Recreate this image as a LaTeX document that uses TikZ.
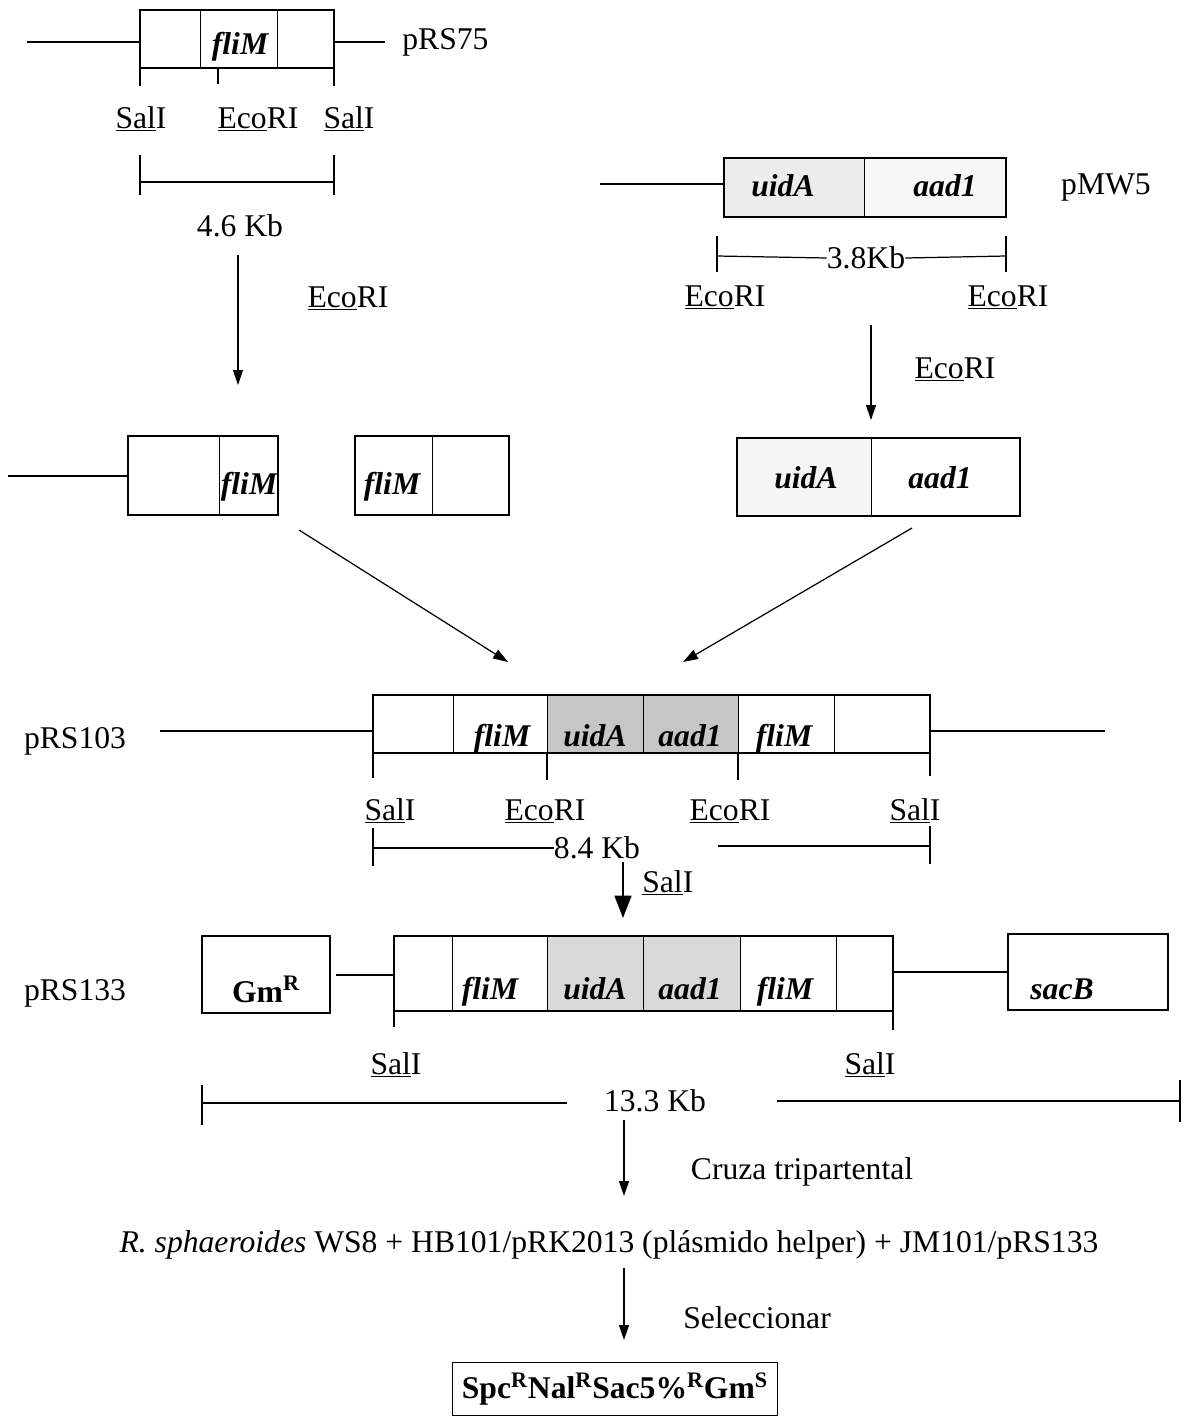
\documentclass[tikz,border=0pt]{standalone}
\usepackage{fontspec}
\setmainfont{Liberation Serif}
\usetikzlibrary{arrows.meta}
\newcommand{\enz}[2]{\underline{#1}#2}
\begin{document}
\begin{tikzpicture}[x=0.02cm, y=-0.02cm,
  txt/.style={font=\fontsize{18}{20}\selectfont, inner sep=0pt},
  gene/.style={font=\fontsize{18}{20}\selectfont\bfseries\itshape, inner sep=0pt, anchor=base},
  site/.style={txt, anchor=base},
  box/.style={draw, line width=1pt},
  wire/.style={line width=1pt},
  tick/.style={line width=0.7pt},
  flow/.style={-{Triangle[length=0.3cm, width=0.2cm]}, line width=0.7pt},
  bigflow/.style={-{Triangle[length=0.45cm, width=0.34cm]}, line width=1pt}
]
\useasboundingbox (0,0) rectangle (1185,1417);

% pRS75
\draw[wire] (27,42) -- (140,42);
\draw[box] (140,10) rectangle (334,68);
\draw (200,10) -- (200,68) (277,10) -- (277,68);
\node[gene] (fliMa) at (240,54) {fliM};
\draw[wire] (334,42) -- (385,42);
\node[txt, anchor=west] (pRS75) at (402,42) {pRS75};
\draw[tick] (140,68) -- (140,86) (218,68) -- (218,84) (334,68) -- (334,86);
\node[site] (salA) at (141,128) {\enz{Sal}I};
\node[site] (ecoA) at (258,128) {\enz{Eco}RI};
\node[site] (salB) at (349,128) {\enz{Sal}I};
\draw[tick] (140,155) -- (140,195) (334,155) -- (334,195);
\draw[tick] (140,182) -- (334,182);
\node[txt] (kbA) at (240,226) {4.6 Kb};

% pMW5
\draw[wire] (600,184) -- (724,184);
\fill[gray!15] (724,158) rectangle (864,217);
\fill[gray!6] (864,158) rectangle (1006,217);
\draw[box] (724,158) rectangle (1006,217);
\draw (864,158) -- (864,217);
\node[gene] (uidAa) at (783,196) {uidA};
\node[gene] (aadA) at (945,196) {aad1};
\node[txt] (pMW5) at (1106,188) {pMW5};
\draw[tick] (717,236) -- (717,272) (1006,236) -- (1006,272);
\node[txt] (kbB) at (866,258) {3.8Kb};
\draw[tick] (717,256) -- (kbB.west) (kbB.east) -- (1006,256);
\node[site] (ecoB) at (725,306) {\enz{Eco}RI};
\node[site] (ecoC) at (1008,306) {\enz{Eco}RI};

% digestion
\coordinate (d1s) at (238,255);
\coordinate (d1e) at (238,385);
\draw[flow] (d1s) -- (d1e);
\node[site] (ecoD) at (348,307) {\enz{Eco}RI};
\coordinate (d2s) at (871,325);
\coordinate (d2e) at (871,420);
\draw[flow] (d2s) -- (d2e);
\node[site] (ecoE) at (955,378) {\enz{Eco}RI};

% fragments
\draw[wire] (8,476) -- (128,476);
\draw[box] (128,436) rectangle (278,515);
\draw (219,436) -- (219,515);
\node[gene] (fliMb) at (249,494) {fliM};
\draw[box] (355,436) rectangle (509,515);
\draw (432,436) -- (432,515);
\node[gene] (fliMc) at (392,494) {fliM};
\fill[gray!8] (737,438) rectangle (871,516);
\draw[box] (737,438) rectangle (1020,516);
\draw (871,438) -- (871,516);
\node[gene] (uidAb) at (806,488) {uidA};
\node[gene] (aadB) at (940,488) {aad1};

% ligation
\coordinate (l1s) at (299,530);
\coordinate (l1e) at (508,662);
\coordinate (l2s) at (912,528);
\coordinate (l2e) at (683,662);
\draw[flow] (l1s) -- (l1e);
\draw[flow] (l2s) -- (l2e);

% pRS103
\node[txt] (pRS103) at (75,741) {pRS103};
\draw[wire] (160,731) -- (373,731);
\fill[gray!45] (547,695) rectangle (738,753);
\draw[box] (373,695) rectangle (930,753);
\foreach \x in {453,547,643,738,834}
  \draw (\x,695) -- (\x,753);
\node[gene] (fliMd) at (502,746) {fliM};
\node[gene] (uidAc) at (595,746) {uidA};
\node[gene] (aadC) at (690,746) {aad1};
\node[gene] (fliMe) at (784,746) {fliM};
\draw[wire] (930,731) -- (1105,731);
\draw[tick] (373,753) -- (373,778) (547,753) -- (547,780)
  (738,753) -- (738,780) (930,753) -- (930,776);
\node[site] (salC) at (390,820) {\enz{Sal}I};
\node[site] (ecoF) at (545,820) {\enz{Eco}RI};
\node[site] (ecoG) at (730,820) {\enz{Eco}RI};
\node[site] (salD) at (915,820) {\enz{Sal}I};
\draw[tick] (373,828) -- (373,866) (930,826) -- (930,864);
\node[txt] (kbC) at (597,848) {8.4 Kb};
\draw[tick] (373,848) -- (kbC.west) (718,846) -- (930,846);
\coordinate (s1s) at (623,862);
\coordinate (s1e) at (623,918);
\draw[bigflow] (s1s) -- (s1e);
\node[site, anchor=base west] (salE) at (642,892) {\enz{Sal}I};

% pRS133
\node[txt] (pRS133) at (75,993) {pRS133};
\draw[box] (202,936) rectangle (330,1013);
\node[txt, anchor=base, font=\fontsize{18}{20}\selectfont\bfseries] (gm) at (266,1002) {Gm\textsuperscript{R}};
\draw[wire] (336,975) -- (394,975);
\fill[gray!30] (547,936) rectangle (740,1011);
\draw[box] (394,936) rectangle (893,1011);
\foreach \x in {452,547,643,740,836}
  \draw (\x,936) -- (\x,1011);
\node[gene] (fliMf) at (490,999) {fliM};
\node[gene] (uidAd) at (595,999) {uidA};
\node[gene] (aadD) at (690,999) {aad1};
\node[gene] (fliMg) at (785,999) {fliM};
\draw[tick] (394,1011) -- (394,1027) (893,1011) -- (893,1030);
\draw[wire] (893,972) -- (1008,972);
\draw[box] (1008,934) rectangle (1168,1010);
\node[gene] (sacB) at (1062,999) {sacB};
\node[site] (salF) at (396,1074) {\enz{Sal}I};
\node[site] (salG) at (870,1074) {\enz{Sal}I};
\draw[tick] (202,1085) -- (202,1125) (1180,1080) -- (1180,1122);
\node[txt] (kbD) at (655,1101) {13.3 Kb};
\draw[tick] (202,1103) -- (567,1103) (777,1101) -- (1180,1101);

% conjugation
\coordinate (c1s) at (624,1120);
\coordinate (c1e) at (624,1196);
\draw[flow] (c1s) -- (c1e);
\node[txt] (cruza) at (802,1172) {Cruza tripartental};
\node[txt] (mix) at (609,1245) {\textit{R. sphaeroides} WS8 + HB101/pRK2013 (plásmido helper) + JM101/pRS133};
\coordinate (c2s) at (624,1268);
\coordinate (c2e) at (624,1340);
\draw[flow] (c2s) -- (c2e);
\node[txt] (sel) at (757,1318) {Seleccionar};
\node[draw, line width=1pt, minimum width=6.5cm, minimum height=1.06cm,
  font=\fontsize{18}{20}\selectfont\bfseries] (res) at (615,1389)
  {Spc\textsuperscript{R}Nal\textsuperscript{R}Sac5\%\textsuperscript{R}Gm\textsuperscript{S}};
\end{tikzpicture}
\end{document}
